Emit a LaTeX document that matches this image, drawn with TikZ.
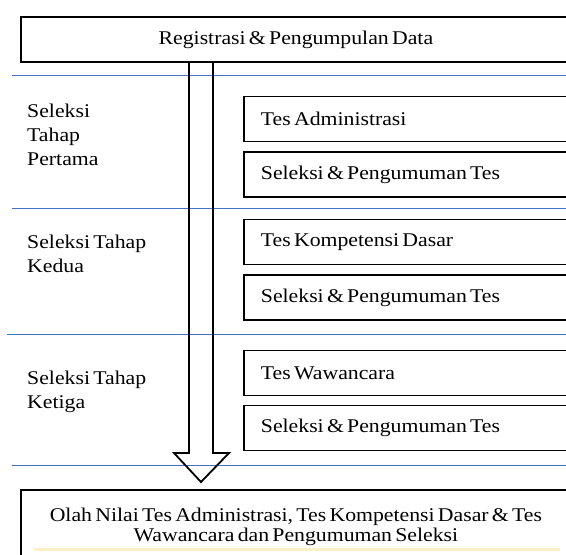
\documentclass[tikz,border=0pt]{standalone}
\usepackage{fontspec}
\setmainfont[FakeStretch=1.12, WordSpace=0.6]{Liberation Serif}
\definecolor{garisbiru}{HTML}{4472C4}
\definecolor{kuningmuda}{HTML}{FFEFC6}
\newcommand{\isikiri}[1]{\makebox[306bp][l]{#1}}
\begin{document}
\begin{tikzpicture}[x=1bp, y=-1bp,
    kotak/.style={draw, line width=1.8bp, inner sep=0pt, font=\fontsize{19.5}{20}\selectfont},
    kotaktes/.style={kotak, anchor=west, minimum height=45bp, inner xsep=17bp},
    tahap/.style={anchor=north west, inner sep=0pt, align=left, font=\fontsize{19.5}{24.5}\selectfont},
    pemisah/.style={garisbiru, line width=1bp},
    panah/.style={line width=1.8bp, line join=miter}]
    \useasboundingbox (0,0) rectangle (566,555);
    \clip (0,0) rectangle (566,555);

    % garis pemisah tahap
    \draw[pemisah] (12,75.5) -- (566,75.5);
    \draw[pemisah] (12,208.5) -- (566,208.5);
    \draw[pemisah] (7,334.5) -- (566,334.5);
    \draw[pemisah] (12,465.5) -- (566,465.5);

    % kotak atas dan bawah
    \node[kotak, anchor=north west, minimum width=550bp, minimum height=45bp] (daftar) at (20,16) {Registrasi \& Pengumpulan Data};
    \node[kotak, anchor=north west, minimum width=550bp, inner xsep=15bp, inner ysep=18bp, text depth=40bp] (olah) at (20,489)
        {\parbox[t]{520bp}{\centering Olah Nilai Tes Administrasi, Tes Kompetensi Dasar \& Tes\\Wawancara dan Pengumuman Seleksi}};
    \fill[kuningmuda] (34,547.5) rectangle (560,550.5);

    % label tahap
    \node[tahap] (tahap1) at (27,103.5) {Seleksi\\Tahap\\Pertama};
    \node[tahap] (tahap2) at (27,234.5) {Seleksi Tahap\\Kedua};
    \node[tahap] (tahap3) at (27,370.5) {Seleksi Tahap\\Ketiga};

    % kotak tes
    \node[kotaktes] (adm) at (243,119) {\isikiri{Tes Administrasi}};
    \node[kotaktes] (umum1) at (243,174.5) {\isikiri{Seleksi \& Pengumuman Tes}};
    \node[kotaktes] (skd) at (243,242) {\isikiri{Tes Kompetensi Dasar}};
    \node[kotaktes] (umum2) at (243,297.5) {\isikiri{Seleksi \& Pengumuman Tes}};
    \node[kotaktes] (wwc) at (243,373) {\isikiri{Tes Wawancara}};
    \node[kotaktes] (umum3) at (243,428) {\isikiri{Seleksi \& Pengumuman Tes}};

    % panah besar
    \coordinate (ujung) at (201,482);
    \draw[panah] (daftar.south -| 189,0) -- (189,453) -- (174,453) -- (ujung) -- (229,453) -- (213,453) -- (daftar.south -| 213,0);
\end{tikzpicture}
\end{document}
